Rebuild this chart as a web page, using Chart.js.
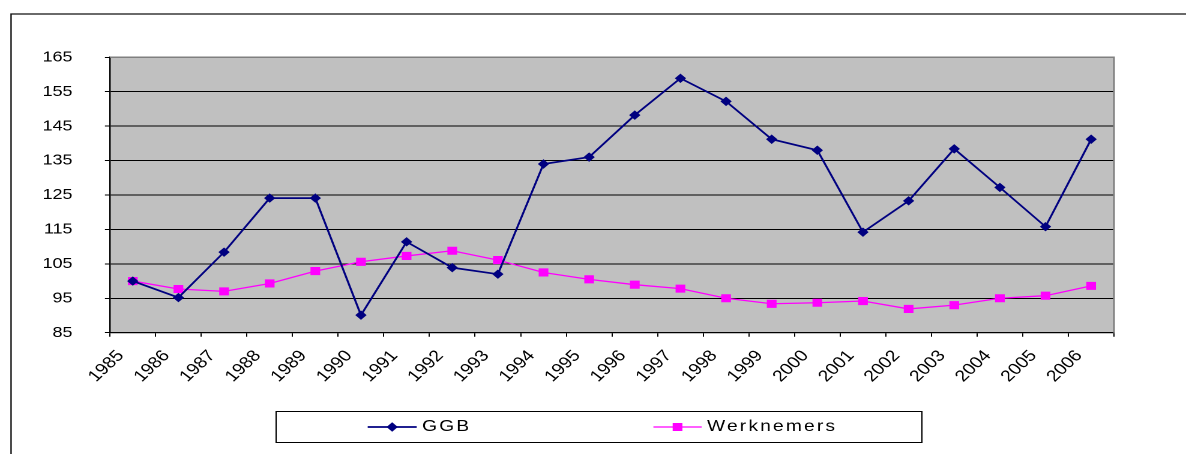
<!DOCTYPE html>
<html>
<head>
<meta charset="utf-8">
<script src="https://cdn.jsdelivr.net/npm/chart.js@4.4.1/dist/chart.umd.min.js"></script>
<style>
html,body{margin:0;padding:0;background:#fff;overflow:hidden;width:1186px;height:454px;}
#wrap{position:absolute;left:0;top:0;width:988px;height:454px;transform:scaleX(1.2004);transform-origin:0 0;}
</style>
</head>
<body>
<div id="wrap"><canvas id="c"></canvas></div>
<script>
// ---- data ----
const years = ['1985','1986','1987','1988','1989','1990','1991','1992','1993','1994','1995',
               '1996','1997','1998','1999','2000','2001','2002','2003','2004','2005','2006'];
const ggb = [100, 95.2, 108.4, 124.1, 124.1, 90.1, 111.4, 103.9, 102.0, 134.0, 136.0,
             148.2, 158.9, 152.2, 141.2, 138.0, 114.2, 123.3, 138.4, 127.2, 115.8, 141.2];
const werknemers = [100, 97.7, 97.0, 99.3, 102.9, 105.6, 107.3, 108.8, 106.1, 102.5, 100.5,
                     98.95, 97.8, 95.0, 93.4, 93.7, 94.2, 91.9, 93.0, 95.0, 95.75, 98.6];
const yMin = 85, yMax = 165, yStep = 10;
const seriesNames = ['GGB', 'Werknemers'];

const FONT = '"Liberation Sans", Arial, sans-serif';

// points sit in the middle of each year slot; year labels sit on the slot boundaries
const toPoints = arr => arr.map((v, i) => ({x: i + 0.5, y: v}));

const backgroundPlugin = {
  id: 'bg',
  beforeDraw(chart) {
    const ctx = chart.ctx, a = chart.chartArea;
    ctx.save();
    ctx.fillStyle = '#fff';
    ctx.fillRect(0, 0, chart.width, chart.height);
    // outer frame (top + left)
    ctx.strokeStyle = '#111';
    ctx.lineWidth = 1.2;
    ctx.beginPath();
    ctx.moveTo(9.2, chart.height);
    ctx.lineTo(9.2, 14);
    ctx.lineTo(chart.width, 14);
    ctx.stroke();
    // plot area
    ctx.fillStyle = '#C0C0C0';
    ctx.fillRect(a.left, a.top, a.right - a.left, a.bottom - a.top);
    ctx.restore();
  },
  afterDraw(chart) {
    const ctx = chart.ctx, a = chart.chartArea;
    ctx.save();
    ctx.strokeStyle = '#808080';
    ctx.lineWidth = 1.5;
    ctx.beginPath();
    ctx.moveTo(a.left, a.top);
    ctx.lineTo(a.right, a.top);
    ctx.lineTo(a.right, a.bottom);
    ctx.stroke();
    ctx.restore();
  }
};

const legendPlugin = {
  id: 'boxLegend',
  afterDraw(chart) {
    const ctx = chart.ctx;
    ctx.save();
    ctx.fillStyle = '#fff';
    ctx.fillRect(230, 411, 538, 31);
    ctx.strokeStyle = '#000';
    ctx.lineWidth = 1;
    ctx.strokeRect(230, 411.5, 538, 31);
    const slots = [{x0: 306.3, x1: 347.1, tx: 351.6}, {x0: 544.3, x1: 584.5, tx: 589}];
    const ly = 427;
    chart.data.datasets.forEach((ds, i) => {
      const s = slots[i];
      ctx.strokeStyle = ds.borderColor;
      ctx.lineWidth = ds.borderWidth;
      ctx.beginPath();
      ctx.moveTo(s.x0, ly);
      ctx.lineTo(s.x1, ly);
      ctx.stroke();
      const cx = (s.x0 + s.x1) / 2;
      ctx.fillStyle = ds.pointBackgroundColor;
      ctx.strokeStyle = ds.pointBorderColor;
      ctx.lineWidth = 1;
      ctx.beginPath();
      const r = ds.pointRadius;
      if (ds.pointStyle === 'rectRot') {
        ctx.moveTo(cx - r, ly); ctx.lineTo(cx, ly - r); ctx.lineTo(cx + r, ly); ctx.lineTo(cx, ly + r);
      } else {
        const h = r * Math.SQRT1_2;
        ctx.rect(cx - h, ly - h, 2 * h, 2 * h);
      }
      ctx.closePath();
      ctx.fill();
      ctx.stroke();
      ctx.fillStyle = '#000';
      ctx.font = '16px ' + FONT;
      ctx.letterSpacing = '1.8px';
      ctx.textBaseline = 'alphabetic';
      ctx.textAlign = 'left';
      ctx.fillText(ds.label, s.tx, 431);
    });
    ctx.restore();
  }
};

new Chart(document.getElementById('c'), {
  type: 'line',
  data: {
    datasets: [
      {
        label: seriesNames[0],
        data: toPoints(ggb),
        borderColor: '#000080',
        borderWidth: 1.7,
        pointStyle: 'rectRot',
        pointRadius: 4,
        pointBackgroundColor: '#000080',
        pointBorderColor: '#000080',
        pointBorderWidth: 1,
        tension: 0,
        fill: false
      },
      {
        label: seriesNames[1],
        data: toPoints(werknemers),
        borderColor: '#FF00FF',
        borderWidth: 1.3,
        pointStyle: 'rect',
        pointRadius: 5,
        pointBackgroundColor: '#FF00FF',
        pointBorderColor: '#FF00FF',
        pointBorderWidth: 1,
        tension: 0,
        fill: false
      }
    ]
  },
  options: {
    responsive: true,
    maintainAspectRatio: false,
    devicePixelRatio: 2,
    animation: false,
    events: [],
    layout: {padding: {left: 0, right: 60, top: 57.3, bottom: 61.3}},
    plugins: {legend: {display: false}, tooltip: {enabled: false}, title: {display: false}},
    scales: {
      x: {
        type: 'linear',
        min: 0,
        max: years.length,
        afterFit(scale) { scale.height = 60; },
        ticks: {
          stepSize: 1,
          autoSkip: false,
          maxRotation: 48,
          minRotation: 48,
          labelOffset: 9,
          padding: 10,
          color: '#000',
          font: {family: FONT, size: 16},
          callback: (v) => (Number.isInteger(v) && v < years.length) ? years[v] : ''
        },
        grid: {drawOnChartArea: false, drawTicks: true, tickLength: 4, color: '#000', lineWidth: 1},
        border: {display: true, color: '#000', width: 1.2}
      },
      y: {
        type: 'linear',
        min: yMin,
        max: yMax,
        afterFit(scale) { scale.width = 91.6; },
        ticks: {
          stepSize: yStep,
          padding: 27,
          color: '#000',
          font: {family: FONT, size: 15}
        },
        grid: {
          color: (c) => (c.tick && c.tick.value === yMax) ? '#808080' : '#000',
          tickColor: '#000',
          tickLength: 4.2,
          lineWidth: 1
        },
        border: {display: true, color: '#000', width: 1.2}
      }
    }
  },
  plugins: [backgroundPlugin, legendPlugin]
});
</script>
</body>
</html>
